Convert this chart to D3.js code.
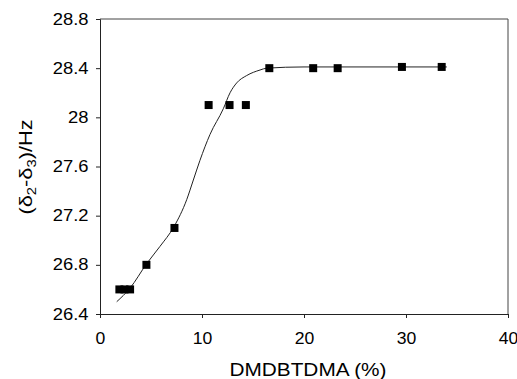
<!DOCTYPE html>
<html>
<head>
<meta charset="utf-8">
<script src="https://cdn.jsdelivr.net/npm/d3@7"></script>
<style>
  html, body { margin: 0; padding: 0; background: #fff; }
  svg { display: block; }
  text { font-family: "Liberation Sans", Arial, sans-serif; fill: #000; }
</style>
</head>
<body>
<svg id="chart" width="517" height="379"></svg>
<script>
// ---- data ----
const pointX = [1.9, 2.4, 2.95, 4.55, 7.3, 10.65, 12.7, 14.3, 16.6, 20.9, 23.3, 29.6, 33.5];
const pointY = [26.6, 26.6, 26.6, 26.8, 27.1, 28.1, 28.1, 28.1, 28.4, 28.4, 28.4, 28.41, 28.41];

const curveX = [1.64, 2.94, 4.58, 5.88, 7.25, 8.5, 9.15, 9.8, 10.78, 12.09, 12.75, 13.4, 14.38, 15.69, 16.34, 20, 25, 30, 34];
const curveY = [26.5, 26.61, 26.81, 26.95, 27.11, 27.33, 27.49, 27.65, 27.86, 28.07, 28.2, 28.28, 28.34, 28.385, 28.4, 28.41, 28.41, 28.41, 28.41];

const xTicks = [0, 10, 20, 30, 40];
const yTicks = [26.4, 26.8, 27.2, 27.6, 28, 28.4, 28.8];
const yTickLabels = ["26.4", "26.8", "27.2", "27.6", "28", "28.4", "28.8"];

const xTitle = "DMDBTDMA (%)";

// ---- layout ----
const L = 100, T = 19, R = 508, B = 314;
const svg = d3.select("#chart");

const x = d3.scaleLinear().domain([0, 40]).range([L, R]);
const y = d3.scaleLinear().domain([26.4, 28.8]).range([B, T]);

// frame (top & right)
svg.append("path")
  .attr("d", `M${L},${T}H${R}V${B}`)
  .attr("fill", "none").attr("stroke", "#444").attr("stroke-width", 1);

// axes
const xAxis = svg.append("g")
  .attr("transform", `translate(0,${B})`)
  .call(d3.axisBottom(x).tickValues(xTicks).tickSize(4).tickPadding(15).tickFormat(d3.format("d")));
const yAxis = svg.append("g")
  .attr("transform", `translate(${L},0)`)
  .call(d3.axisLeft(y).tickValues(yTicks).tickSize(4).tickPadding(6)
        .tickFormat((d, i) => yTickLabels[i]));

[xAxis, yAxis].forEach(g => {
  g.select(".domain").attr("stroke", "#222").attr("stroke-width", 1);
  g.selectAll(".tick line").attr("stroke", "#222");
  g.selectAll(".tick text")
    .attr("font-family", "Liberation Sans, Arial, sans-serif")
    .attr("font-size", 16).attr("fill", "#000");
});
// widen glyphs like the reference
yAxis.selectAll(".tick text").attr("transform", "scale(1.15,1)");
xAxis.selectAll(".tick text").attr("transform", "scale(1.1,1)")
  .attr("x", 0);

// fitted curve
const line = d3.line()
  .x(d => x(d[0])).y(d => y(d[1]))
  .curve(d3.curveMonotoneX);
svg.append("path")
  .datum(curveX.map((v, i) => [v, curveY[i]]))
  .attr("d", line)
  .attr("fill", "none").attr("stroke", "#222").attr("stroke-width", 1);

// square markers
const s = 8;
svg.append("g").selectAll("rect")
  .data(pointX.map((v, i) => [v, pointY[i]]))
  .join("rect")
  .attr("x", d => x(d[0]) - s / 2)
  .attr("y", d => y(d[1]) - s / 2)
  .attr("width", s).attr("height", s)
  .attr("fill", "#000");

// x title
svg.append("text")
  .attr("x", 308).attr("y", 376)
  .attr("text-anchor", "middle")
  .attr("font-size", 18)
  .attr("textLength", 157).attr("lengthAdjust", "spacingAndGlyphs")
  .text(xTitle);

// y title
const yt = svg.append("text")
  .attr("transform", "translate(32,167) rotate(-90)")
  .attr("text-anchor", "middle")
  .attr("font-size", 19)
  .attr("textLength", 95).attr("lengthAdjust", "spacingAndGlyphs");
yt.append("tspan").text("(δ");
yt.append("tspan").attr("font-size", 13).attr("dy", 4).text("2");
yt.append("tspan").attr("dy", -4).text("-δ");
yt.append("tspan").attr("font-size", 13).attr("dy", 4).text("3");
yt.append("tspan").attr("dy", -4).text(")/Hz");
</script>
</body>
</html>
